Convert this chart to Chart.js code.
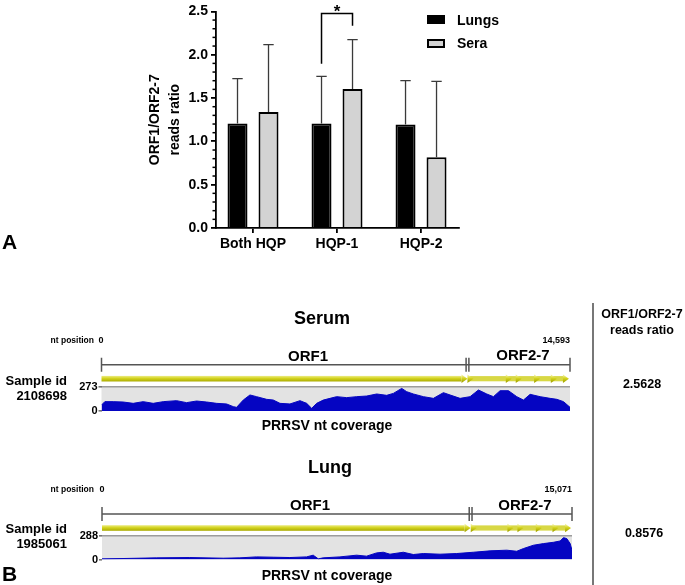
<!DOCTYPE html>
<html><head><meta charset="utf-8">
<script src="https://cdn.jsdelivr.net/npm/chart.js@4.4.1/dist/chart.umd.min.js"></script>
<style>
html,body{margin:0;padding:0;background:#fff;}
#wrap{position:relative;width:685px;height:585px;overflow:hidden;font-family:'Liberation Sans',Arial,sans-serif;font-weight:bold;color:#000;}
canvas{position:absolute;left:0;}
.t{position:absolute;white-space:nowrap;line-height:1;}
.c{transform:translate(-50%,-50%);}
.r{transform:translate(-100%,-50%);}
.l{transform:translate(0,-50%);}
</style></head>
<body><div id="wrap">
<canvas id="cA" width="685" height="262" style="top:0px"></canvas>
<canvas id="cS" width="685" height="134" style="top:296px"></canvas>
<canvas id="cL" width="685" height="134" style="top:446px"></canvas>

<!-- Panel A labels and legend -->
<div class="t l" style="left:2px;top:241px;font-size:21px">A</div>
<div style="position:absolute;left:427px;top:15px;width:18px;height:9px;background:#000"></div>
<div class="t l" style="left:457px;top:20px;font-size:14px">Lungs</div>
<div style="position:absolute;left:427px;top:39px;width:18px;height:9px;box-sizing:border-box;border:2px solid #000;background:#d3d3d3"></div>
<div class="t l" style="left:457px;top:43px;font-size:14px">Sera</div>

<!-- Panel B labels -->
<div class="t c" style="left:322px;top:318px;font-size:18px">Serum</div>
<div class="t r" style="left:94px;top:340px;font-size:8.5px">nt position</div>
<div class="t c" style="left:101px;top:340px;font-size:9px">0</div>
<div class="t r" style="left:570px;top:340px;font-size:9px">14,593</div>
<div class="t c" style="left:308px;top:355px;font-size:15px">ORF1</div>
<div class="t c" style="left:523px;top:354px;font-size:15px">ORF2-7</div>
<div class="t r" style="left:67px;top:380px;font-size:13px">Sample id</div>
<div class="t r" style="left:67px;top:395px;font-size:13px">2108698</div>
<div class="t c" style="left:327px;top:425px;font-size:14px">PRRSV nt coverage</div>

<div style="position:absolute;left:592px;top:303px;width:1.5px;height:282px;background:#777"></div>
<div class="t c" style="left:642px;top:314px;font-size:12.5px">ORF1/ORF2-7</div>
<div class="t c" style="left:642px;top:330px;font-size:12.5px">reads ratio</div>
<div class="t c" style="left:642px;top:384px;font-size:12.5px">2.5628</div>

<div class="t c" style="left:330px;top:467px;font-size:18px">Lung</div>
<div class="t r" style="left:94px;top:489px;font-size:8.5px">nt position</div>
<div class="t c" style="left:102px;top:489px;font-size:9px">0</div>
<div class="t r" style="left:572px;top:489px;font-size:9px">15,071</div>
<div class="t c" style="left:310px;top:504px;font-size:15px">ORF1</div>
<div class="t c" style="left:525px;top:504px;font-size:15px">ORF2-7</div>
<div class="t r" style="left:67px;top:528px;font-size:13px">Sample id</div>
<div class="t r" style="left:67px;top:543px;font-size:13px">1985061</div>
<div class="t c" style="left:327px;top:575px;font-size:14px">PRRSV nt coverage</div>
<div class="t c" style="left:644px;top:533px;font-size:12.5px">0.8576</div>
<div class="t l" style="left:2px;top:573px;font-size:21px">B</div>
</div>

<script>
// ---------- Panel A data ----------
const categories = ['Both HQP', 'HQP-1', 'HQP-2'];
const seriesNames = ['Lungs', 'Sera'];
const lungsMean = [1.206, 1.206, 1.195];
const seraMean = [1.340, 1.604, 0.816];
const lungsUpper = [1.723, 1.750, 1.700];
const seraUpper = [2.117, 2.175, 1.692];
const yTicksA = [0, 0.5, 1.0, 1.5, 2.0, 2.5];
const sigBracket = [1.895, 2.477, 2.335]; // left foot, top, right foot (HQP-1)
const sigLabel = '*';

// ---------- Panel B data ----------
const genomeLength = [14593, 15071];      // serum, lung
const coverageMax = [273, 288];
const orf1End = [11400, 11820];
const serumArrowheads = [11585, 12780, 13091, 13663, 14183, 14560];
const lungArrowheads = [12016, 13193, 13514, 14103, 14638, 15040];
const serumPos = [0,104,364,675,987,1299,1610,1922,2338,2649,2961,3273,3585,3896,4104,4208,4416,4624,4831,5143,5351,5559,5870,6182,6390,6546,6702,6909,7117,7325,7637,7948,8260,8572,8883,9091,9351,9507,9715,10026,10338,10650,10858,11169,11481,11741,12000,12208,12416,12676,12935,13143,13351,13663,13975,14183,14391,14593];
const serumCov = [67,105,105,101,86,105,86,105,116,94,112,101,86,79,49,41,123,180,161,131,123,86,79,116,86,30,86,123,142,161,150,161,168,191,176,198,254,217,191,161,142,206,180,142,161,236,191,161,228,228,161,123,187,161,142,131,105,41];
const lungPos = [0,674,1744,2814,3884,4419,4954,5489,6024,6559,6773,6934,7094,7629,8164,8485,8806,9020,9234,9662,9983,10304,10839,11374,11909,12444,12979,13300,13514,13835,14156,14477,14691,14798,14905,15012,15071];
const lungCov = [8,12,20,24,16,20,32,28,24,32,53,8,20,32,53,41,81,89,65,89,61,73,65,73,89,106,114,101,134,175,195,211,227,268,256,195,114];

Chart.defaults.font.family = "'Liberation Sans', Arial, sans-serif";
Chart.defaults.color = '#000';

const boldFont = (s) => ({size: s, weight: 'bold', family: "'Liberation Sans', Arial, sans-serif"});

// ---------- Panel A plugins ----------
const errorBarPlugin = {
  id: 'errbars',
  afterDatasetsDraw(chart) {
    const ctx = chart.ctx, y = chart.scales.y;
    const uppers = [lungsUpper, seraUpper];
    ctx.save();
    ctx.strokeStyle = '#3a3a3a';
    ctx.lineWidth = 1.3;
    chart.data.datasets.forEach((ds, di) => {
      chart.getDatasetMeta(di).data.forEach((el, i) => {
        const yt = y.getPixelForValue(uppers[di][i]);
        ctx.beginPath();
        ctx.moveTo(el.x, el.y);
        ctx.lineTo(el.x, yt);
        ctx.moveTo(el.x - 5.2, yt);
        ctx.lineTo(el.x + 5.2, yt);
        ctx.stroke();
      });
    });
    ctx.restore();
  },
  afterDraw(chart) {
    const ctx = chart.ctx, y = chart.scales.y;
    const left = chart.chartArea.left;
    ctx.save();
    // minor ticks
    ctx.strokeStyle = '#000';
    ctx.lineWidth = 1.5;
    for (let k = 1; k < 25; k++) {
      if (k % 5 === 0) continue;
      const py = y.getPixelForValue(k / 10);
      ctx.beginPath();
      ctx.moveTo(left - 3.5, py);
      ctx.lineTo(left, py);
      ctx.stroke();
    }
    // significance bracket
    const a = chart.getDatasetMeta(0).data[1], b = chart.getDatasetMeta(1).data[1];
    ctx.lineWidth = 1.5;
    ctx.beginPath();
    ctx.moveTo(a.x, y.getPixelForValue(sigBracket[0]));
    ctx.lineTo(a.x, y.getPixelForValue(sigBracket[1]));
    ctx.lineTo(b.x, y.getPixelForValue(sigBracket[1]));
    ctx.lineTo(b.x, y.getPixelForValue(sigBracket[2]));
    ctx.stroke();
    ctx.fillStyle = '#000';
    ctx.font = "bold 17px 'Liberation Sans', Arial, sans-serif";
    ctx.textAlign = 'center';
    ctx.textBaseline = 'alphabetic';
    ctx.fillText(sigLabel, (a.x + b.x) / 2, y.getPixelForValue(sigBracket[1]) + 4);
    ctx.restore();
  }
};

new Chart(document.getElementById('cA'), {
  type: 'bar',
  data: {
    datasets: [
      {label: seriesNames[0], data: lungsMean.map((v, i) => ({x: i, y: v})),
       backgroundColor: '#000', borderColor: '#000', borderWidth: 2,
       categoryPercentage: 0.738, barPercentage: 0.645},
      {label: seriesNames[1], data: seraMean.map((v, i) => ({x: i, y: v})),
       backgroundColor: '#d3d3d3', borderColor: '#000', borderWidth: 2,
       categoryPercentage: 0.738, barPercentage: 0.645}
    ]
  },
  options: {
    responsive: false,
    animation: false,
    layout: {padding: {left: 145, right: 226, top: 11, bottom: 0}},
    plugins: {legend: {display: false}, tooltip: {enabled: false}},
    scales: {
      x: {
        type: 'linear', min: -0.4405, max: 2.452, offset: false,
        afterBuildTicks: (s) => { s.ticks = categories.map((c, i) => ({value: i})); },
        ticks: {callback: (v) => categories[v], font: boldFont(14), color: '#000', padding: 3, maxRotation: 0, autoSkip: false},
        grid: {display: true, drawOnChartArea: false, offset: false, tickLength: 5, color: '#000', lineWidth: 1.8},
        border: {display: true, color: '#000', width: 1.8},
        afterFit: (s) => { s.height = 34; }
      },
      y: {
        min: 0, max: 2.5,
        afterBuildTicks: (s) => { s.ticks = yTicksA.map((v) => ({value: v})); },
        ticks: {callback: (v) => Number(v).toFixed(1), font: boldFont(14), color: '#000', padding: 3},
        grid: {display: true, drawOnChartArea: false, tickLength: 5, color: '#000', lineWidth: 1.8},
        border: {display: true, color: '#000', width: 1.8},
        title: {display: true, text: ['ORF1/ORF2-7', 'reads ratio'], font: {size: 14, weight: 'bold', lineHeight: 1.45}, color: '#000', padding: 0},
        afterFit: (s) => { s.width = 71; }
      }
    }
  },
  plugins: [errorBarPlugin]
});

// ---------- Panel B ----------
function yellowGrad(ctx, yc) {
  const g = ctx.createLinearGradient(0, yc - 3, 0, yc + 3);
  g.addColorStop(0, '#eeee8c');
  g.addColorStop(0.45, '#d3d31f');
  g.addColorStop(1, '#a8a800');
  return g;
}

function coverageChart(id, pos, cov, len, maxCov, orfEnd, heads, pad) {
  const orfPlugin = {
    id: 'orf_' + id,
    beforeDraw(chart) {
      const {left, right, top, bottom} = chart.chartArea;
      const ctx = chart.ctx;
      ctx.save();
      ctx.fillStyle = '#e3e3e3';
      ctx.fillRect(left, top, right - left, bottom - top);
      ctx.restore();
    },
    afterDraw(chart) {
      const ctx = chart.ctx, x = chart.scales.x;
      const top = chart.chartArea.top;
      const x0 = x.getPixelForValue(0), xb = x.getPixelForValue(orfEnd), xe = x.getPixelForValue(len);
      ctx.save();
      // bracket
      const by = top - 22;
      ctx.strokeStyle = '#555';
      ctx.lineWidth = 1.5;
      ctx.beginPath();
      ctx.moveTo(x0, by); ctx.lineTo(xe, by);
      [x0, xb - 1.4, xb + 1.4, xe].forEach((px) => { ctx.moveTo(px, by - 7); ctx.lineTo(px, by + 7); });
      ctx.stroke();
      // yellow ORF bar
      const yc = top - 8;
      const g = yellowGrad(ctx, yc);
      ctx.fillStyle = g;
      ctx.fillRect(x0, yc - 2.8, xb - 6 - x0, 5.6);
      const arrow = (px) => {
        ctx.beginPath();
        ctx.moveTo(px - 6, yc - 4.2);
        ctx.lineTo(px, yc);
        ctx.lineTo(px - 6, yc + 4.2);
        ctx.closePath();
        ctx.fill();
      };
      arrow(xb);
      ctx.fillStyle = '#d8d845';
      ctx.fillRect(xb + 1, yc - 2.6, xe - 6 - xb - 1, 5.2);
      ctx.fillStyle = g;
      heads.forEach((h) => arrow(x.getPixelForValue(h)));
      ctx.restore();
    }
  };
  return new Chart(document.getElementById(id), {
    type: 'line',
    data: {datasets: [{
      data: pos.map((p, i) => ({x: p, y: cov[i]})),
      fill: 'origin', backgroundColor: '#0505c2', borderColor: '#0505c2',
      borderWidth: 1, pointRadius: 0, tension: 0
    }]},
    options: {
      responsive: false, animation: false,
      layout: {padding: pad},
      plugins: {legend: {display: false}, tooltip: {enabled: false}},
      scales: {
        x: {type: 'linear', display: false, min: 0, max: len},
        y: {
          min: 0, max: maxCov,
          afterBuildTicks: (s) => { s.ticks = [{value: 0}, {value: maxCov}]; },
          ticks: {font: boldFont(11), color: '#000', padding: 1, callback: (v) => String(v)},
          grid: {drawOnChartArea: true, tickLength: 3, lineWidth: 1.6,
                 color: (c) => (c.tick && c.tick.value === maxCov) ? '#9c9c9c' : 'rgba(0,0,0,0)',
                 tickColor: '#777'},
          border: {display: false},
          afterFit: (s) => { s.width = 30; }
        }
      }
    },
    plugins: [orfPlugin]
  });
}

coverageChart('cS', serumPos, serumCov, genomeLength[0], coverageMax[0], orf1End[0], serumArrowheads,
  {left: 71.5, right: 115, top: 90.7, bottom: 19});
coverageChart('cL', lungPos, lungCov, genomeLength[1], coverageMax[1], orf1End[1], lungArrowheads,
  {left: 72, right: 113, top: 90, bottom: 20.5});
</script>
</body></html>
